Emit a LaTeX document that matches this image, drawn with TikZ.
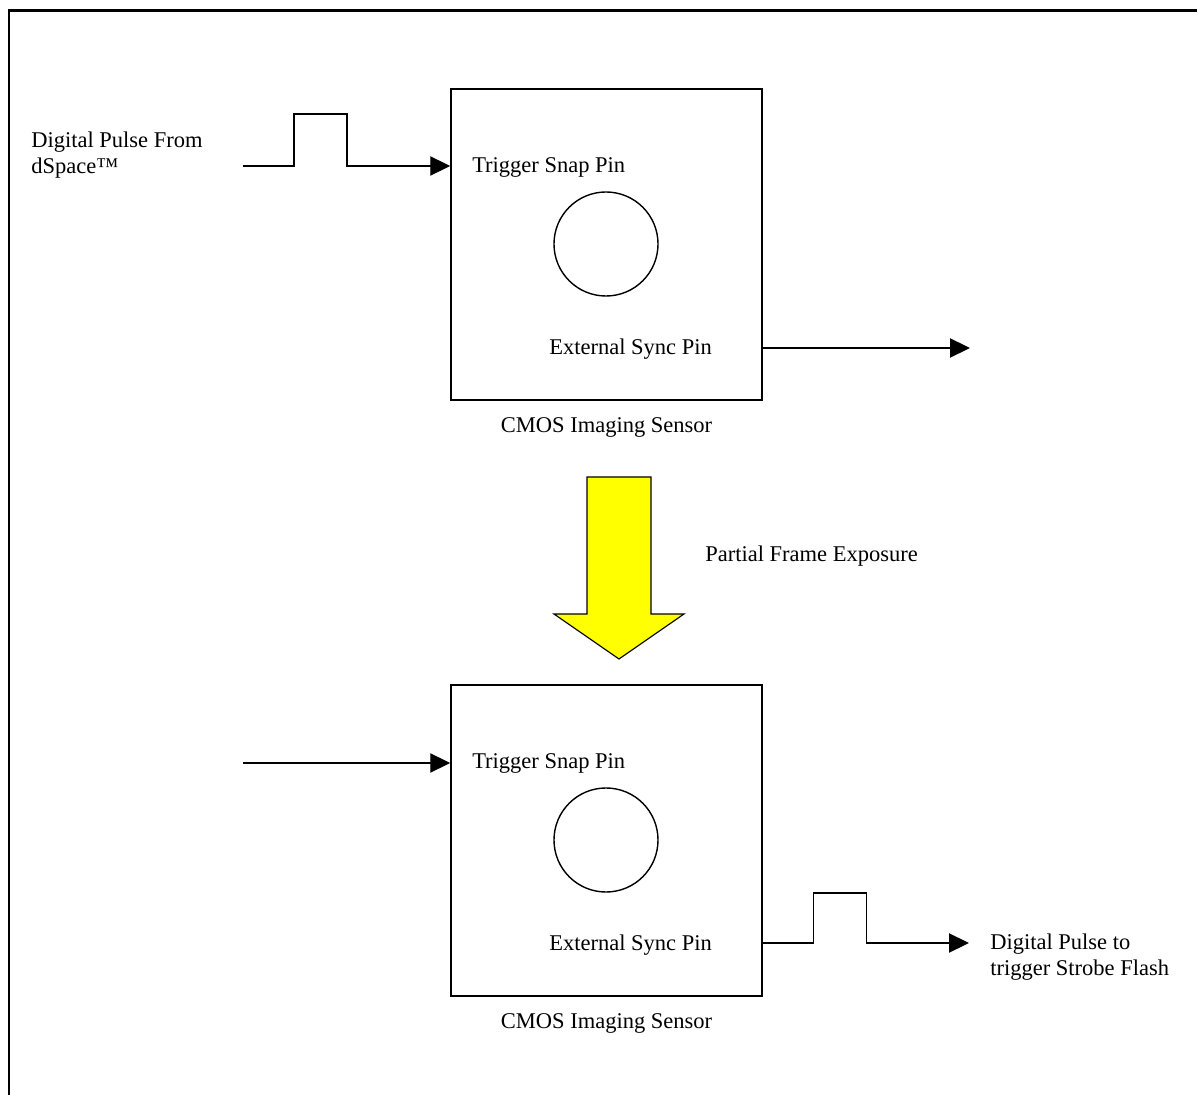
\documentclass[tikz,border=0pt]{standalone}
\usepackage{fontspec}
\setmainfont{Liberation Serif}
\usetikzlibrary{arrows.meta,positioning}

\definecolor{flashyellow}{RGB}{255,255,0}
\tikzset{
  sensor/.style={draw,line width=1pt,minimum width=7.775cm,minimum height=7.775cm,inner sep=0pt},
  lens/.style={draw,circle,line width=1pt,minimum size=2.6cm,inner sep=0pt},
  lbl/.style={font=\fontsize{16}{18.5}\selectfont,inner sep=0pt,align=left},
  signal/.style={line width=1pt,-{Triangle[length=0.5cm,width=0.48cm]}}
}

\begin{document}
\begin{tikzpicture}[x=0.025cm,y=-0.025cm]
\useasboundingbox (0,0) rectangle (1197,1095);
% outer frame
\draw[line width=1.5pt] (9,1095) -- (9,10.5) -- (1197,10.5);

% first sensor
\node[sensor] (cam1) at (606.5,244.5) {};
\node[lens] (lens1) at (606,244) {};
\node[lbl,anchor=west] (snap1) at (472,167) {Trigger Snap Pin};
\node[lbl,anchor=west] (sync1) at (549,349) {External Sync Pin};
\node[lbl,below=0.42cm of cam1] (name1) {CMOS Imaging Sensor};

\node[lbl,anchor=west] (src) at (31,155) {Digital Pulse From\\dSpace™};
\coordinate (in1) at (243,166);
\coordinate (end1) at (970,348);
\draw[signal] (in1) -- ++(51,0) -- ++(0,-52) -- ++(53,0) -- ++(0,52) -- (in1 -| cam1.west);
\draw[signal] (cam1.east |- end1) -- (end1);

% exposure arrow
\draw[fill=flashyellow,line width=0.8pt,line join=miter] (587,477) -- (651,477) -- (651,614) -- (684,614)
  -- (619,659) -- (554,614) -- (587,614) -- cycle;
\node[lbl,anchor=west] (expo) at (705,556) {Partial Frame Exposure};

% second sensor
\node[sensor] (cam2) at (606.5,840.5) {};
\node[lens] (lens2) at (606,840) {};
\node[lbl,anchor=west] (snap2) at (472,763) {Trigger Snap Pin};
\node[lbl,anchor=west] (sync2) at (549,945) {External Sync Pin};
\node[lbl,below=0.42cm of cam2] (name2) {CMOS Imaging Sensor};

\node[lbl,anchor=west] (flash) at (990,957) {Digital Pulse to\\trigger Strobe Flash};
\coordinate (in2) at (243,763);
\coordinate (end2) at (969,943);
\draw[signal] (in2) -- (in2 -| cam2.west);
\draw[signal] (cam2.east |- end2) -- ++(51,0) -- ++(0,-50) -- ++(53,0) -- ++(0,50) -- (end2);
\end{tikzpicture}
\end{document}
